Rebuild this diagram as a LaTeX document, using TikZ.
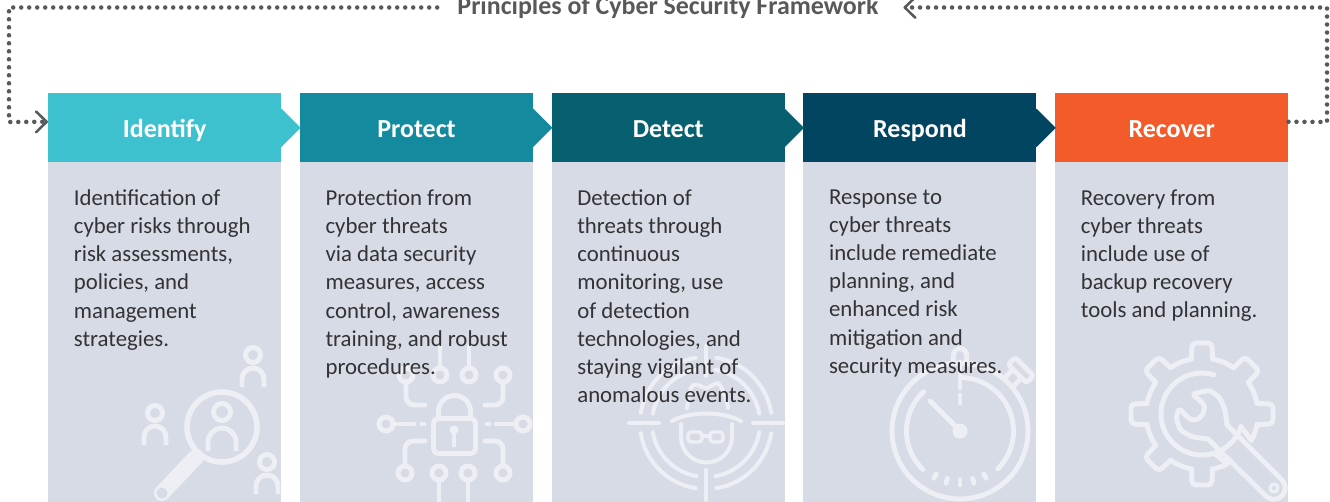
\documentclass[tikz,border=0pt]{standalone}
\usepackage{fontspec}
\setmainfont{Carlito}
\usepackage{tikz}
\usetikzlibrary{positioning, arrows.meta}

\definecolor{idcol}{HTML}{3EC1CF}
\definecolor{procol}{HTML}{138A9E}
\definecolor{detcol}{HTML}{07606F}
\definecolor{rescol}{HTML}{014560}
\definecolor{reccol}{HTML}{F45B2A}
\definecolor{bodycol}{HTML}{D7DBE5}
\definecolor{iconcol}{HTML}{EDEFF4}
\definecolor{txtcol}{HTML}{333335}
\definecolor{dotcol}{HTML}{58595B}

\begin{document}
\begin{tikzpicture}[
            x = 0.75pt, y = 0.75pt,
            node distance = 188.8pt,
            on grid,
            head/.style = {minimum width=174.75pt, minimum height=51.75pt, inner sep=0pt},
            headtext/.style = {text=white, text height=17.8pt, text depth=3pt, font=\fontsize{19.5}{22}\selectfont\bfseries},
            bodybox/.style = {minimum width=174.75pt, minimum height=255pt, inner sep=0pt, fill=bodycol},
            bodytext/.style = {anchor=north west, inner sep=0pt, align=left, text=txtcol, font=\fontsize{17.1}{21.15}\selectfont, execute at begin node=\strut},
            icon/.style = {draw=iconcol, line width=3.7pt, line cap=round, line join=round},
            dotline/.style = {draw=dotcol, line width=3.4pt, line cap=round, dash pattern=on 0pt off 6pt},
            backtip/.style = {-{Straight Barb[length=8pt, width=15.5pt, line width=1.9pt, round]}}
        ]
            \useasboundingbox (0,0) rectangle (1330,-502);

            % Headers
            \node[head, fill=idcol, anchor=north west] (id) at (48,-93) {};
            \node[head, fill=procol] (pro) [right=of id] {};
            \node[head, fill=detcol] (det) [right=of pro] {};
            \node[head, fill=rescol] (res) [right=of det] {};
            \node[head, fill=reccol] (rec) [right=of res] {};

            % Pointers between headers
            \fill[idcol] ([xshift=-1pt,yshift=14.25pt]id.east) -- ([yshift=14.25pt]id.east) -- ([xshift=14.25pt]id.east) -- ([yshift=-14.25pt]id.east) -- ([xshift=-1pt,yshift=-14.25pt]id.east) -- cycle;
            \fill[procol] ([xshift=-1pt,yshift=14.25pt]pro.east) -- ([yshift=14.25pt]pro.east) -- ([xshift=14.25pt]pro.east) -- ([yshift=-14.25pt]pro.east) -- ([xshift=-1pt,yshift=-14.25pt]pro.east) -- cycle;
            \fill[detcol] ([xshift=-1pt,yshift=14.25pt]det.east) -- ([yshift=14.25pt]det.east) -- ([xshift=14.25pt]det.east) -- ([yshift=-14.25pt]det.east) -- ([xshift=-1pt,yshift=-14.25pt]det.east) -- cycle;
            \fill[rescol] ([xshift=-1pt,yshift=14.25pt]res.east) -- ([yshift=14.25pt]res.east) -- ([xshift=14.25pt]res.east) -- ([yshift=-14.25pt]res.east) -- ([xshift=-1pt,yshift=-14.25pt]res.east) -- cycle;

            % Header labels
            \node[headtext] (idlab) at (id) {Identify};
            \node[headtext] (prolab) at (pro) {Protect};
            \node[headtext] (detlab) at (det) {Detect};
            \node[headtext] (reslab) at (res) {Respond};
            \node[headtext] (reclab) at (rec) {Recover};

            % Grey panels
            \node[bodybox] (idb) [below=153.4pt of id] {};
            \node[bodybox] (prob) [below=153.4pt of pro] {};
            \node[bodybox] (detb) [below=153.4pt of det] {};
            \node[bodybox] (resb) [below=153.4pt of res] {};
            \node[bodybox] (recb) [below=153.4pt of rec] {};

            % Icon: magnifier and people
            \foreach \dx/\dy in {0/0, -98/-58, 14/-107} {
                \draw[icon] (253+\dx,-355+\dy) circle[radius=7.5];
                \draw[icon, line cap=butt] (242+\dx,-387+\dy) -- (242+\dx,-379+\dy) arc[start angle=180, end angle=0, radius=11] -- (264+\dx,-387+\dy);
            }
            \draw[icon, line width=4.2pt] (222,-427) circle[radius=35];
            \draw[icon] (222,-412) circle[radius=8.5];
            \draw[icon, line cap=butt] (208,-451) -- (208,-442) arc[start angle=180, end angle=0, radius=14] -- (236,-451);
            \draw[icon, line width=12pt] (196,-457) -- (162,-493);
            \fill[bodycol] (162,-493) circle[radius=5.5];

            % Icon: padlock and traces
            \draw[icon, rounded corners=3.5pt] (433.5,-418.5) rectangle (475.5,-453.5);
            \draw[icon] (438.5,-418) -- (438.5,-411.5) arc[start angle=180, end angle=0, radius=16] -- (470.5,-418);
            \fill[iconcol] (454,-430) circle[radius=4.5];
            \draw[icon] (454,-430) -- (454,-445);
            \foreach \rx/\ry in {406/375, 440/375, 469/375, 503/375, 405/473, 439/473, 468/473, 503/473, 386/424, 523/424} {
                \draw[icon] (\rx,-\ry) circle[radius=7];
            }
            \draw[icon] (440,-368) -- (440,-346);
            \draw[icon] (469,-368) -- (469,-346);
            \draw[icon] (439,-480) -- (439,-502);
            \draw[icon] (468,-480) -- (468,-502);
            \draw[icon, rounded corners=6pt] (406,-382) -- (406,-405) -- (425,-405);
            \draw[icon, rounded corners=6pt] (503,-382) -- (503,-405) -- (485,-405);
            \draw[icon, rounded corners=6pt] (405,-466) -- (405,-441) -- (425,-441);
            \draw[icon, rounded corners=6pt] (503,-466) -- (503,-441) -- (485,-441);
            \draw[icon] (393,-424) -- (414,-424);
            \draw[icon] (422,-424) -- (424,-424);
            \draw[icon] (487,-424) -- (489,-424);
            \draw[icon] (496,-424) -- (516,-424);

            % Icon: target and spy
            \foreach \qa in {0,90,180,270} {
                \draw[icon, line width=3pt] (706,-423) ++(\qa+9:66) arc[start angle=\qa+9, end angle=\qa+81, radius=66];
                \draw[icon, line width=3pt] (706,-423) ++(\qa+10:54) arc[start angle=\qa+10, end angle=\qa+80, radius=54];
                \draw[icon, line width=3pt] (706,-423) ++(\qa:47) -- ++(\qa:30);
            }
            \draw[icon, line width=3pt] (672,-421) .. controls (690,-411) and (722,-411) .. (741,-421);
            \draw[icon, line width=3pt] (687,-408) .. controls (689,-395) and (690,-388) .. (693,-385) .. controls (698,-383) and (702,-388) .. (706,-388) .. controls (710,-388) and (714,-383) .. (718,-383) .. controls (723,-388) and (726,-398) .. (728,-408);
            \draw[icon, line width=3pt] (681,-424) -- (681,-437) arc[start angle=180, end angle=360, radius=25.5] -- (732,-424);
            \draw[icon, line width=2.6pt, rounded corners=2.5pt] (688,-432) rectangle (702,-442);
            \draw[icon, line width=2.6pt, rounded corners=2.5pt] (710,-432) rectangle (723,-442);
            \draw[icon, line width=2.6pt] (702,-436) -- (710,-436);

            % Icon: stopwatch
            \draw[icon] (960,-431) circle[radius=68];
            \draw[icon] (960,-431) ++(133:53.5) arc[start angle=133, end angle=226, radius=53.5];
            \draw[icon] (960,-431) ++(90:53.5) arc[start angle=90, end angle=-45, radius=53.5];
            \foreach \ta in {241,255,270,285,299} {
                \draw[icon] (960,-431) ++(\ta:49) -- ++(\ta:5);
            }
            \draw[icon] (960,-395) -- (960,-403);
            \draw[icon] (960,-362) -- (960,-388);
            \draw[icon] (953.5,-363) -- (953.5,-355) arc[start angle=180, end angle=0, radius=6.5] -- (966.5,-363);
            \draw[icon] (930,-401) -- (960,-431);
            \fill[iconcol] (960,-431) circle[radius=7.5];
            \begin{scope}[shift={(960,-431)}, rotate=-45]
                \draw[icon, rounded corners=2pt] (-13,81) rectangle (13,91);
                \draw[icon] (-6,68) -- (-6,81);
                \draw[icon] (6,68) -- (6,81);
            \end{scope}

            % Icon: gear and wrench
            \begin{scope}[shift={(1202,-414)}]
                \foreach \ga in {0,45,90,135,180,225} {
                    \draw[icon, rotate=\ga, rounded corners=3pt] (10.8:56) -- (71,10) -- (71,-10) -- (-10.8:56);
                    \draw[icon, rotate=\ga] (10.8:56) arc[start angle=10.8, end angle=34.2, radius=56];
                }
                \draw[icon, rotate=270, rounded corners=3pt] (10.8:56) -- (71,10) -- (71,-10) -- (-10.8:56);
                \draw[icon] (-10.8:56) arc[start angle=-10.8, end angle=-28, radius=56] -- (-18:41);
                \draw[icon] (-79.2:56) arc[start angle=-79.2, end angle=-63, radius=56] -- (-73:41);
                \draw[icon] (-18:41) arc[start angle=-18, end angle=-287, radius=41];
            \end{scope}
            \draw[icon, rounded corners=2.5pt] (1227,-425) -- (1225,-410) -- (1220,-398) -- (1210,-390) -- (1192,-394) -- (1205,-405) -- (1203,-415) -- (1195,-421) -- (1188,-418) -- (1179,-408) -- (1176,-418) -- (1180,-430) -- (1192,-437) -- (1208,-439);
            \draw[icon] (1227,-425) -- (1282,-480) arc[start angle=44, end angle=-136, radius=11.4] -- (1208,-439);
            \draw[icon, line width=2.4pt] (1274,-488) circle[radius=4];

            % Panel texts
            \node[bodytext] (idt) at ([xshift=19.2pt,yshift=-20.45pt]idb.north west) {Identification of\\cyber risks through\\risk assessments,\\policies, and\\management\\strategies.};
            \node[bodytext] (prot) at ([xshift=19.2pt,yshift=-20.45pt]prob.north west) {Protection from\\cyber threats\\via data security\\measures, access\\control, awareness\\training, and robust\\procedures.};
            \node[bodytext] (dett) at ([xshift=19.2pt,yshift=-20.45pt]detb.north west) {Detection of\\threats through\\continuous\\monitoring, use\\of detection\\technologies, and\\staying vigilant of\\anomalous events.};
            \node[bodytext] (rest) at ([xshift=19.2pt,yshift=-20.45pt]resb.north west) {Response to\\cyber threats\\include remediate\\planning, and\\enhanced risk\\mitigation and\\security measures.};
            \node[bodytext] (rect) at ([xshift=19.2pt,yshift=-20.45pt]recb.north west) {Recovery from\\cyber threats\\include use of\\backup recovery\\tools and planning.};

            % Title and return path
            \node[inner sep=0pt, text height=12.4pt, text depth=2.2pt, text=dotcol, font=\fontsize{19.45}{22}\selectfont\bfseries] (title) at (668,-7.5) {Principles of Cyber Security Framework};
            \coordinate (rtop) at (1327,-7.5);
            \coordinate (rbot) at (1327,-122);
            \coordinate (ltop) at (9,-7.5);
            \coordinate (lbot) at (9,-122);
            \path[dotline, backtip] ([yshift=4.5pt]rec.east) -- (rbot) -- (rtop) -- ([xshift=18.5pt]title.east);
            \path[dotline, backtip] ([xshift=-15pt]title.west) -- (ltop) -- (lbot) -- ([yshift=4.5pt]id.west);

        \end{tikzpicture}
\end{document}
